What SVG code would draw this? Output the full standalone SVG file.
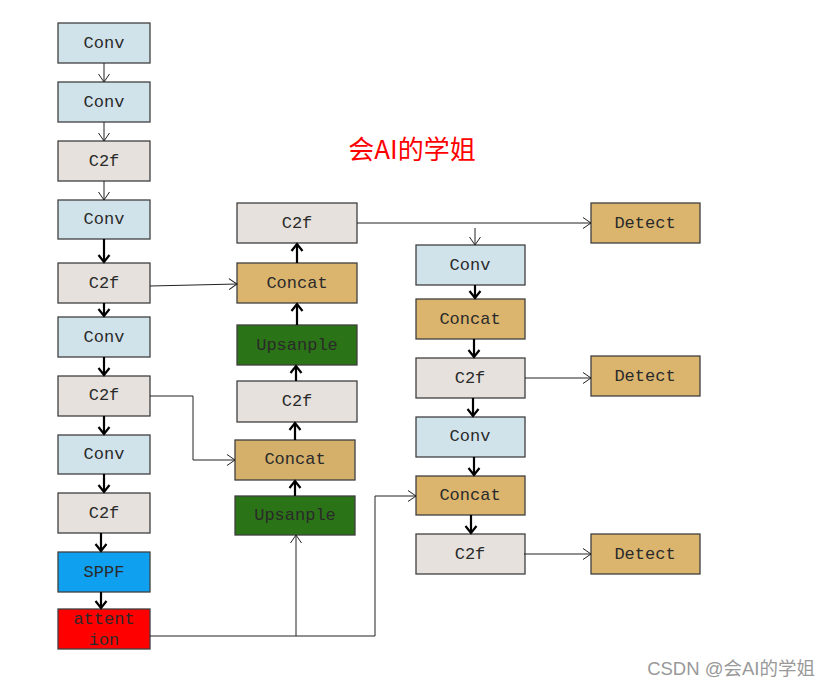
<svg xmlns="http://www.w3.org/2000/svg" width="830" height="687" viewBox="0 0 830 687">
<style>
.b{stroke:#404040;stroke-width:1.3}
.conv{fill:#d1e3ea}.c2f{fill:#e6e1dc}.cat{fill:#dbb56e}.cat2{fill:#d4b06a}.up{fill:#2a7316}.sppf{fill:#10a0f0}.att{fill:#ff0000}
text.t{font-family:"Liberation Mono","Courier New",monospace;font-size:17px;fill:#2a2a2a;text-anchor:middle;dominant-baseline:central}
.thin{stroke:#222;stroke-width:1;fill:none}
.thick{stroke:#000;stroke-width:2.2;fill:none}
</style>
<defs>
<marker id="a1" markerUnits="userSpaceOnUse" markerWidth="20" markerHeight="20" refX="10" refY="10" orient="auto">
<path d="M2,4.5 L10,10 L2,15.5" fill="none" stroke="#222" stroke-width="1"/>
</marker>
<marker id="a2" markerUnits="userSpaceOnUse" markerWidth="20" markerHeight="20" refX="10" refY="10" orient="auto">
<path d="M3,4.5 L10,10 L3,15.5" fill="none" stroke="#000" stroke-width="2.2"/>
</marker>
</defs>
<rect width="830" height="687" fill="#fff"/>
<g id="n1"><rect class="b conv" x="58" y="23" width="92" height="40"/><text class="t" x="104" y="43">Conv</text></g>
<g id="n2"><rect class="b conv" x="58" y="82" width="92" height="40"/><text class="t" x="104" y="102">Conv</text></g>
<g id="n3"><rect class="b c2f" x="58" y="141" width="92" height="40"/><text class="t" x="104" y="161">C2f</text></g>
<g id="n4"><rect class="b conv" x="58" y="200" width="92" height="39"/><text class="t" x="104" y="219">Conv</text></g>
<g id="n5"><rect class="b c2f" x="58" y="263" width="92" height="40"/><text class="t" x="104" y="283">C2f</text></g>
<g id="n6"><rect class="b conv" x="58" y="317" width="92" height="40"/><text class="t" x="104" y="337">Conv</text></g>
<g id="n7"><rect class="b c2f" x="58" y="376" width="92" height="40"/><text class="t" x="104" y="395">C2f</text></g>
<g id="n8"><rect class="b conv" x="58" y="435" width="92" height="39"/><text class="t" x="104" y="454">Conv</text></g>
<g id="n9"><rect class="b c2f" x="58" y="493" width="92" height="40"/><text class="t" x="104" y="513">C2f</text></g>
<g id="n10"><rect class="b sppf" x="58" y="552" width="92" height="40"/><text class="t" x="104" y="572">SPPF</text></g>
<g id="n11"><rect class="b att" x="58" y="609" width="92" height="40"/><text class="t" x="104" y="619">attent</text><text class="t" x="104" y="640">ion</text></g>

<g id="m1"><rect class="b c2f" x="237" y="203" width="120" height="40"/><text class="t" x="297" y="223">C2f</text></g>
<g id="m2"><rect class="b cat" x="237" y="263" width="120" height="40"/><text class="t" x="297" y="283">Concat</text></g>
<g id="m3"><rect class="b up" x="237" y="325" width="120" height="40"/><text class="t" x="297" y="345">Upsanple</text></g>
<g id="m4"><rect class="b c2f" x="237" y="381" width="120" height="41"/><text class="t" x="297" y="401">C2f</text></g>
<g id="m5"><rect class="b cat2" x="235" y="440" width="120" height="40"/><text class="t" x="295" y="459">Concat</text></g>
<g id="m6"><rect class="b up" x="235" y="496" width="120" height="39"/><text class="t" x="295" y="515">Upsanple</text></g>

<g id="r1"><rect class="b conv" x="416" y="245" width="109" height="40"/><text class="t" x="470" y="265">Conv</text></g>
<g id="r2"><rect class="b cat" x="416" y="299" width="109" height="40"/><text class="t" x="470" y="319">Concat</text></g>
<g id="r3"><rect class="b c2f" x="416" y="358" width="109" height="40"/><text class="t" x="470" y="378">C2f</text></g>
<g id="r4"><rect class="b conv" x="416" y="417" width="109" height="40"/><text class="t" x="470" y="436">Conv</text></g>
<g id="r5"><rect class="b cat" x="416" y="476" width="109" height="39"/><text class="t" x="470" y="495">Concat</text></g>
<g id="r6"><rect class="b c2f" x="416" y="534" width="109" height="40"/><text class="t" x="470" y="554">C2f</text></g>

<g id="d1"><rect class="b cat" x="591" y="203" width="109" height="40"/><text class="t" x="645" y="223">Detect</text></g>
<g id="d2"><rect class="b cat" x="591" y="356" width="109" height="40"/><text class="t" x="645" y="376">Detect</text></g>
<g id="d3"><rect class="b cat" x="591" y="534" width="109" height="40"/><text class="t" x="645" y="554">Detect</text></g>

<g id="connectors">
<path class="thin" d="M104,63 V82" marker-end="url(#a1)"/>
<path class="thin" d="M104,122 V141" marker-end="url(#a1)"/>
<path class="thin" d="M104,181 V200" marker-end="url(#a1)"/>
<path class="thick" d="M104,239 V262" marker-end="url(#a2)"/>
<path class="thick" d="M104,303 V316" marker-end="url(#a2)"/>
<path class="thick" d="M104,357 V375" marker-end="url(#a2)"/>
<path class="thick" d="M104,416 V434" marker-end="url(#a2)"/>
<path class="thick" d="M104,474 V492" marker-end="url(#a2)"/>
<path class="thick" d="M101,533 V551" marker-end="url(#a2)"/>
<path class="thick" d="M101,592 V608" marker-end="url(#a2)"/>

<path class="thin" d="M150,286 L237,284" stroke="#555" marker-end="url(#a1)"/>
<path class="thin" d="M150,396 H193 V460 H235" marker-end="url(#a1)"/>
<path class="thin" d="M150,636 H375 V496 H416" marker-end="url(#a1)"/>
<path class="thin" d="M296,636 V535" marker-end="url(#a1)"/>

<path class="thick" d="M295,496 V481" marker-end="url(#a2)"/>
<path class="thick" d="M295,440 V423" marker-end="url(#a2)"/>
<path class="thick" d="M296,381 V366" marker-end="url(#a2)"/>
<path class="thick" d="M297,325 V304" marker-end="url(#a2)"/>
<path class="thick" d="M297,263 V244" marker-end="url(#a2)"/>

<path class="thin" d="M357,223 H591" marker-end="url(#a1)"/>
<path class="thin" d="M475,228 V245" marker-end="url(#a1)"/>
<path class="thick" d="M475,285 V298" marker-end="url(#a2)"/>
<path class="thick" d="M474,339 V357" marker-end="url(#a2)"/>
<path class="thick" d="M473,398 V416" marker-end="url(#a2)"/>
<path class="thick" d="M474,457 V475" marker-end="url(#a2)"/>
<path class="thick" d="M471,515 V533" marker-end="url(#a2)"/>
<path class="thin" d="M525,378 H591" marker-end="url(#a1)"/>
<path class="thin" d="M524,554 H591" marker-end="url(#a1)"/>
</g>

<text x="412" y="159" font-family="'Noto Sans CJK SC',sans-serif" font-size="26" fill="#ff0000" text-anchor="middle">会AI的学姐</text>
<text x="815" y="675" font-family="'Liberation Sans','Noto Sans CJK SC',sans-serif" font-size="18.5" fill="#999" text-anchor="end">CSDN @会AI的学姐</text>
</svg>
